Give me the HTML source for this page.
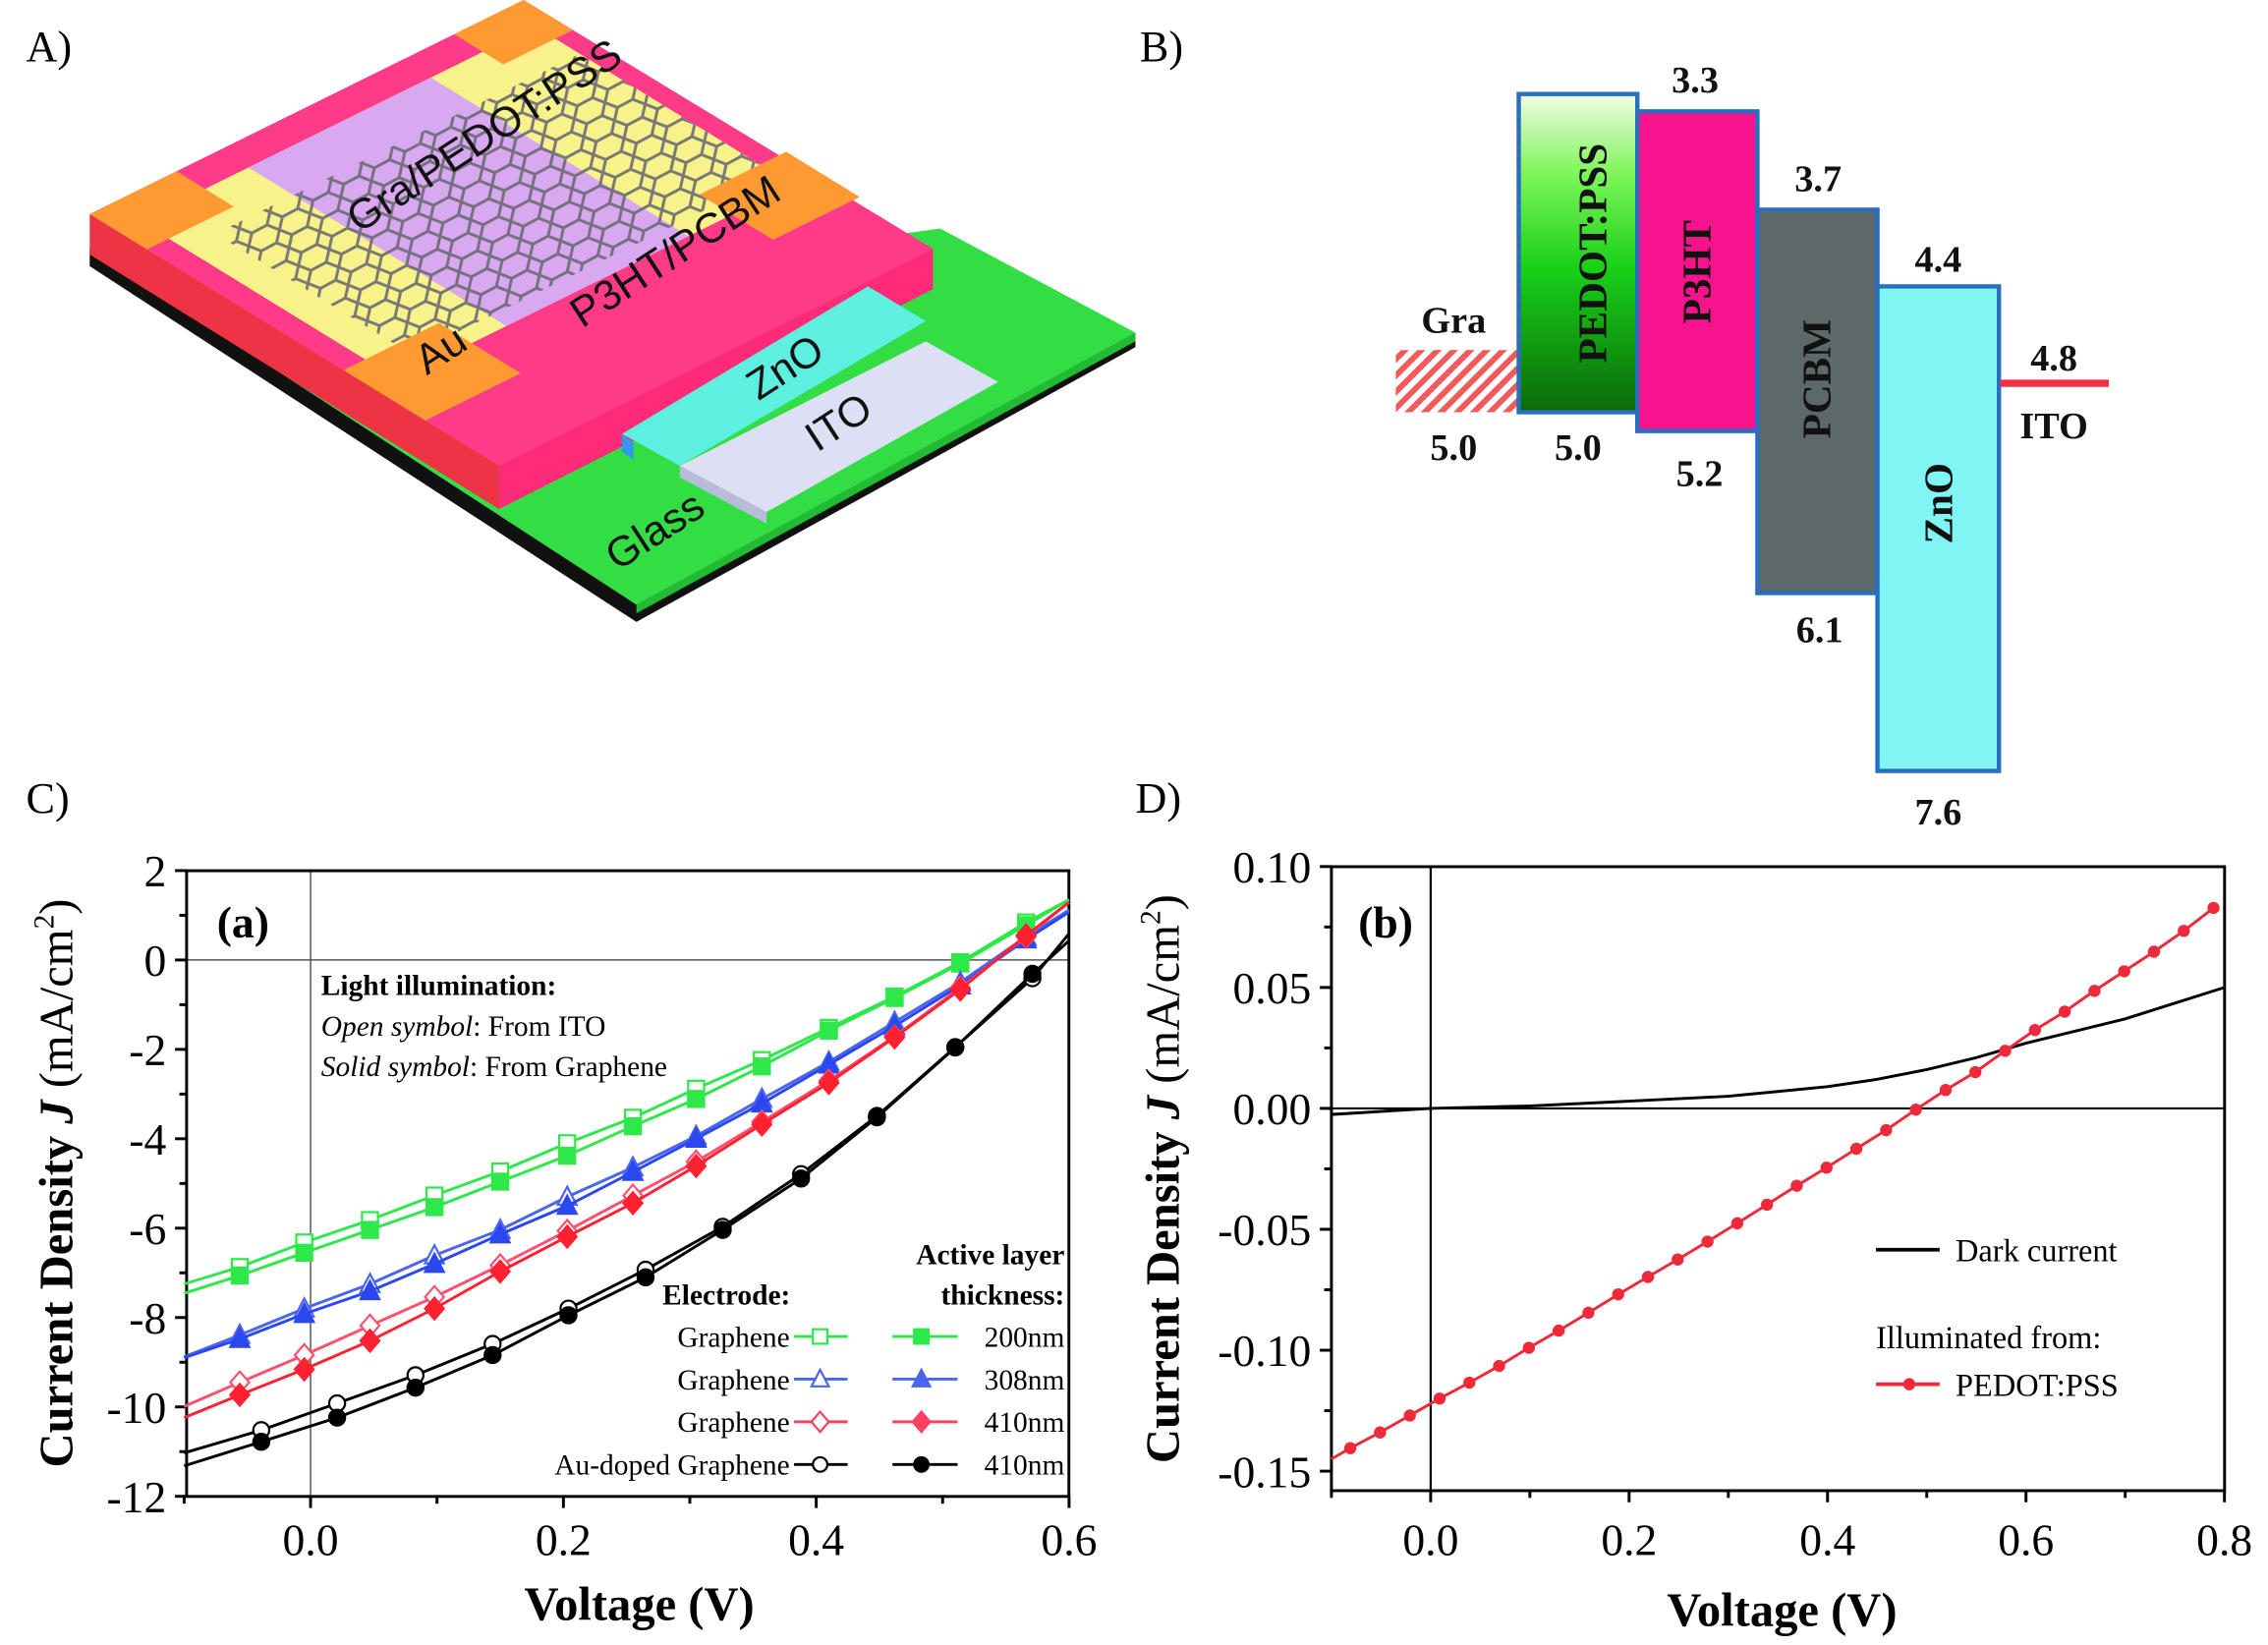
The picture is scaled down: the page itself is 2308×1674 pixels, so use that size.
<!DOCTYPE html>
<html><head><meta charset="utf-8">
<style>
html,body{margin:0;padding:0;background:#fff;}
svg{display:block;}
.serif{font-family:"Liberation Serif",serif;}
.sans{font-family:"Liberation Sans",sans-serif;}
</style></head>
<body>
<svg id="fig" width="2308" height="1674" viewBox="0 0 1568 1137.3" xmlns="http://www.w3.org/2000/svg">
<defs>
  <linearGradient id="pedotGrad" x1="0" y1="0" x2="0" y2="1">
    <stop offset="0" stop-color="#f2fbe6"/>
    <stop offset="0.25" stop-color="#7ef55a"/>
    <stop offset="0.55" stop-color="#18d018"/>
    <stop offset="1" stop-color="#0a6a0a"/>
  </linearGradient>
  <pattern id="hatch" width="8" height="8" patternUnits="userSpaceOnUse" patternTransform="rotate(45)">
    <rect width="8" height="8" fill="#fff"/>
    <rect width="4" height="8" fill="#f05a5a"/>
  </pattern>
  <pattern id="hexes" width="24" height="14" patternUnits="userSpaceOnUse" patternTransform="rotate(-28)">
    <path d="M0,7 L6,0 L18,0 L24,7 L18,14 L6,14 Z" fill="none" stroke="#6a6a72" stroke-width="2"/>
  </pattern>
</defs>

<!-- Panel letters -->
<text x="18" y="42" class="serif" font-size="30">A)</text>
<text x="788" y="42" class="serif" font-size="30">B)</text>
<text x="18" y="562" class="serif" font-size="30">C)</text>
<text x="785" y="562" class="serif" font-size="30">D)</text>

<!-- Panel A: device schematic -->
<g>
  <polygon points="62,172 440,418 785,230 785,240 440,430 62,184" fill="#111"/>
  <polygon points="62,172 440,418 785,230 650,158 345,200" fill="#33dd44"/>
  <polygon points="440,418 785,230 785,236 440,424" fill="#22bb33"/>
  <!-- P3HT slab -->
  <polygon points="62,148 345,322 345,352 62,176" fill="#ee3344"/>
  <polygon points="345,322 645,172 645,200 345,352" fill="#ff2a78"/>
  <polygon points="62,148 345,322 645,172 362,0" fill="#ff3a88"/>
  <polygon id="pedotYellow" fill="#f8f28a"/>
  <polygon id="pedotLav" fill="#d8a8f0"/>
  <polygon id="grapheneNet" fill="url(#hexes)" opacity="0.9"/>
  <polygon id="pad1" fill="#ff9a33"/>
  <polygon id="pad2" fill="#ff9a33"/>
  <polygon id="pad3" fill="#ff9a33"/>
  <polygon id="pad4" fill="#ff9a33"/>
  <!-- ZnO / ITO -->
  <polygon points="430,300 438,306 438,318 430,312" fill="#3399ee"/>
  <polygon points="430,300 470,322 640,222 600,198" fill="#5df0e0"/>
  <polygon points="470,322 530,354 690,264 640,236" fill="#dde0f4"/>
  <polygon points="470,322 530,354 530,362 470,330" fill="#b8bcd8"/>
  <g class="sans" font-size="29" fill="#111">
    <text transform="translate(340,102) rotate(-33)" text-anchor="middle">Gra/PEDOT:PSS</text>
    <text transform="translate(472,182) rotate(-33)" text-anchor="middle">P3HT/PCBM</text>
    <text transform="translate(310,250) rotate(-33)" text-anchor="middle">Au</text>
    <text transform="translate(548,262) rotate(-33)" text-anchor="middle">ZnO</text>
    <text transform="translate(585,300) rotate(-33)" text-anchor="middle">ITO</text>
    <text transform="translate(458,375) rotate(-33)" text-anchor="middle">Glass</text>
  </g>
</g>

<!-- Panel B: energy diagram -->
<g>
  <rect x="965" y="242" width="85" height="43" fill="url(#hatch)"/>
  <rect x="1050" y="65" width="82" height="220" fill="url(#pedotGrad)" stroke="#2a6ec0" stroke-width="3"/>
  <rect x="1132" y="77" width="83" height="221" fill="#f5148c" stroke="#2a6ec0" stroke-width="3"/>
  <rect x="1215" y="145" width="83" height="265" fill="#5d6868" stroke="#2a6ec0" stroke-width="3"/>
  <rect x="1298" y="198" width="84" height="335" fill="#80f6f4" stroke="#2a6ec0" stroke-width="3"/>
  <line x1="1383" y1="265" x2="1458" y2="265" stroke="#ee3344" stroke-width="5"/>
  <g class="serif" font-weight="bold" font-size="28" fill="#111" text-anchor="middle">
    <text transform="translate(1101,175) rotate(-90)" dominant-baseline="central">PEDOT:PSS</text>
    <text transform="translate(1173,188) rotate(-90)" dominant-baseline="central">P3HT</text>
    <text transform="translate(1256,262) rotate(-90)" dominant-baseline="central">PCBM</text>
    <text transform="translate(1340,348) rotate(-90)" dominant-baseline="central">ZnO</text>
  </g>
  <g class="serif" font-weight="bold" font-size="26" fill="#111" text-anchor="middle">
    <text x="1172" y="64">3.3</text>
    <text x="1257" y="132">3.7</text>
    <text x="1340" y="188">4.4</text>
    <text x="1420" y="256">4.8</text>
    <text x="1420" y="303">ITO</text>
    <text x="1005" y="230">Gra</text>
    <text x="1005" y="318">5.0</text>
    <text x="1091" y="318">5.0</text>
    <text x="1175" y="336">5.2</text>
    <text x="1258" y="444">6.1</text>
    <text x="1340" y="570">7.6</text>
  </g>
</g>

<g id="chartC"></g>
<g id="chartD"></g>
</svg>

<script>
(function(){
  var L=[62,148], F=[345,322], B=[362,0];
  function P(s,t){return [L[0]+s*(F[0]-L[0])+t*(B[0]-L[0]), L[1]+s*(F[1]-L[1])+t*(B[1]-L[1])];}
  function quad(s0,s1,t0,t1){return [P(s0,t0),P(s1,t0),P(s1,t1),P(s0,t1)].map(function(p){return p[0].toFixed(1)+','+p[1].toFixed(1);}).join(' ');}
  document.getElementById('pedotYellow').setAttribute('points',quad(0.07,0.7,0.05,0.96));
  document.getElementById('pedotLav').setAttribute('points',quad(0.07,0.7,0.3,0.72));
  document.getElementById('grapheneNet').setAttribute('points',quad(0.18,0.66,0.12,0.96));
  document.getElementById('pad1').setAttribute('points',quad(0.0,0.14,0.0,0.2));
  document.getElementById('pad2').setAttribute('points',quad(0.62,0.82,0.0,0.22));
  document.getElementById('pad3').setAttribute('points',quad(0.0,0.12,0.84,1.0));
  document.getElementById('pad4').setAttribute('points',quad(0.62,0.8,0.82,1.02));
})();

var NS='http://www.w3.org/2000/svg';
function mk(parent,tag,attrs){var e=document.createElementNS(NS,tag);for(var k in attrs)e.setAttribute(k,attrs[k]);parent.appendChild(e);return e;}

// ---------- Chart C data ----------
var cX = [-0.1,-0.056,-0.005,0.047,0.098,0.15,0.203,0.255,0.305,0.357,0.41,0.462,0.514,0.566,0.6];
var cGreenOpen  = [-7.25,-6.87,-6.32,-5.82,-5.27,-4.73,-4.10,-3.53,-2.88,-2.24,-1.52,-0.82,-0.05,0.84,1.35];
var cGreenSolid = [-7.46,-7.06,-6.55,-6.04,-5.53,-4.96,-4.38,-3.72,-3.11,-2.38,-1.58,-0.85,-0.08,0.78,1.35];
var cBlueOpen   = [-8.88,-8.39,-7.80,-7.25,-6.61,-6.04,-5.30,-4.64,-3.94,-3.11,-2.28,-1.39,-0.50,0.52,1.12];
var cBlueSolid  = [-8.90,-8.48,-7.92,-7.41,-6.80,-6.14,-5.50,-4.74,-4.00,-3.21,-2.34,-1.48,-0.57,0.46,1.07];
var cRedOpen    = [-9.99,-9.45,-8.84,-8.18,-7.54,-6.83,-6.06,-5.27,-4.51,-3.62,-2.70,-1.71,-0.62,0.52,1.29];
var cRedSolid   = [-10.24,-9.73,-9.16,-8.52,-7.80,-6.97,-6.19,-5.44,-4.61,-3.68,-2.75,-1.73,-0.66,0.55,1.29];
var cBlackX     = [-0.1,-0.039,0.021,0.083,0.144,0.204,0.265,0.326,0.388,0.448,0.51,0.571,0.6];
var cBlackOpen  = [-11.03,-10.52,-9.92,-9.29,-8.59,-7.80,-6.93,-5.97,-4.79,-3.49,-1.95,-0.41,0.59];
var cBlackSolid = [-11.32,-10.78,-10.24,-9.57,-8.84,-7.95,-7.10,-6.04,-4.89,-3.52,-1.96,-0.31,0.43];
var cYTicks = [2,0,-2,-4,-6,-8,-10,-12];
var cXTicks = [0.0,0.2,0.4,0.6];
var cLegendElectrode = ['Graphene','Graphene','Graphene','Au-doped Graphene'];
var cLegendThickness = ['200nm','308nm','410nm','410nm'];

// ---------- Chart D data ----------
var dRedX = [-0.1,-0.081,-0.051,-0.021,0.009,0.039,0.069,0.099,0.129,0.159,0.189,0.219,0.249,0.279,0.309,0.339,0.369,0.399,0.429,0.459,0.489,0.519,0.549,0.579,0.609,0.639,0.669,0.699,0.729,0.759,0.789];
var dRedY = [-0.145,-0.1405,-0.134,-0.127,-0.120,-0.1134,-0.1065,-0.099,-0.0919,-0.0845,-0.0769,-0.0697,-0.0625,-0.0551,-0.0475,-0.0398,-0.032,-0.0245,-0.0167,-0.009,-0.0005,0.0076,0.015,0.0238,0.0324,0.040,0.0486,0.0567,0.0648,0.0734,0.0829];
var dDarkX = [-0.1,0.0,0.1,0.2,0.3,0.4,0.45,0.5,0.55,0.6,0.7,0.8];
var dDarkY = [-0.0025,0.0,0.001,0.003,0.005,0.009,0.012,0.016,0.021,0.027,0.037,0.050];
var dYTicks = [0.10,0.05,0.00,-0.05,-0.10,-0.15];
var dXTicks = [0.0,0.2,0.4,0.6,0.8];

// ---------- Chart C ----------
(function(){
  var g=document.getElementById('chartC');
  var L=129,R=739,T=602,Bm=1034.6;
  function sx(v){return 214.7+v*874;}
  function sy(v){return 663.7-v*30.9;}
  var zl=mk(g,'line',{x1:L,x2:R,y1:sy(0),y2:sy(0),stroke:'#555','stroke-width':1});
   
  var zv=mk(g,'line',{x1:sx(0),x2:sx(0),y1:T,y2:Bm,stroke:'#555','stroke-width':1});
   
  var fr=mk(g,'rect',{x:L,y:T,width:R-L,height:Bm-T,fill:'none',stroke:'#000','stroke-width':2});
   
  for(var v=-12;v<=2;v++){
    var major=(v%2===0);
    var t=mk(g,'line',{x1:L-(major?8:5),x2:L,y1:sy(v),y2:sy(v),stroke:'#000','stroke-width':2});
     
  }
  cYTicks.forEach(function(v){
    var t=mk(g,'text',{x:L-14,y:sy(v)+11,'text-anchor':'end','font-size':31,class:'serif'});
    t.textContent=String(v);
     
  });
  for(var i=-1;i<=6;i++){
    var xv=i/10, major=(i%2===0);
    var t=mk(g,'line',{x1:sx(xv),x2:sx(xv),y1:Bm,y2:Bm+(major?8:5),stroke:'#000','stroke-width':2});
     
  }
  cXTicks.forEach(function(v){
    var t=mk(g,'text',{x:sx(v),y:1075,'text-anchor':'middle','font-size':31,class:'serif'});
    t.textContent=v.toFixed(1);
     
  });
  var xl=mk(g,'text',{x:442,y:1120,'text-anchor':'middle','font-size':33,'font-weight':'bold',class:'serif'});
  xl.textContent='Voltage (V)';
   
  var yl=mk(g,'text',{transform:'translate(50,818) rotate(-90)','text-anchor':'middle','font-size':33,'font-weight':'bold',class:'serif'});
  yl.innerHTML='Current Density <tspan font-style="italic">J</tspan><tspan font-weight="normal"> (mA/cm</tspan><tspan font-weight="normal" font-size="20" dy="-13">2</tspan><tspan font-weight="normal" dy="13">)</tspan>';
   

  function marker(parent,shape,x,y,color,filled,sz){
    var fill=filled?color:'#fff', s=sz||5.5, e;
    if(shape==='square') e=mk(parent,'rect',{x:x-s,y:y-s,width:2*s,height:2*s,fill:fill,stroke:color,'stroke-width':1.5});
    else if(shape==='tri') e=mk(parent,'polygon',{points:x+','+(y-s-1.5)+' '+(x+s+1)+','+(y+s)+' '+(x-s-1)+','+(y+s),fill:fill,stroke:color,'stroke-width':1.5});
    else if(shape==='diamond') e=mk(parent,'polygon',{points:x+','+(y-s-2)+' '+(x+s+1)+','+y+' '+x+','+(y+s+2)+' '+(x-s-1)+','+y,fill:fill,stroke:color,'stroke-width':1.5});
    else e=mk(parent,'circle',{cx:x,cy:y,r:s,fill:fill,stroke:color,'stroke-width':1.5});
     
  }
  function series(xs,ys,color,shape,filled,name){
    var sg=mk(g,'g',{});
     
    var pts=xs.map(function(x,i){return sx(x).toFixed(1)+','+sy(ys[i]).toFixed(1);}).join(' ');
    var pl=mk(sg,'polyline',{points:pts,fill:'none',stroke:color,'stroke-width':2});
     
    for(var i=1;i<xs.length-1;i++) marker(sg,shape,sx(xs[i]),sy(ys[i]),color,filled);
  }
  series(cX,cGreenOpen,'#2ee84a','square',false,'series-200nm-ito');
  series(cX,cGreenSolid,'#2ee84a','square',true,'series-200nm-graphene');
  series(cX,cBlueOpen,'#4a66ee','tri',false,'series-308nm-ito');
  series(cX,cBlueSolid,'#2a48ee','tri',true,'series-308nm-graphene');
  series(cX,cRedOpen,'#ff5070','diamond',false,'series-410nm-ito');
  series(cX,cRedSolid,'#ff2030','diamond',true,'series-410nm-graphene');
  series(cBlackX,cBlackOpen,'#000','circle',false,'series-au-doped-ito');
  series(cBlackX,cBlackSolid,'#000','circle',true,'series-au-doped-graphene');

  var lab=mk(g,'text',{x:168,y:648,'text-anchor':'middle','font-size':31,'font-weight':'bold',class:'serif'});
  lab.textContent='(a)';  
  var n1=mk(g,'text',{x:222,y:688,'font-size':20,'font-weight':'bold',class:'serif'});
  n1.textContent='Light illumination:';  
  var n2=mk(g,'text',{x:222,y:716,'font-size':20,class:'serif'});
  n2.innerHTML='<tspan font-style="italic">Open symbol</tspan>: From ITO';  
  var n3=mk(g,'text',{x:222,y:744,'font-size':20,class:'serif'});
  n3.innerHTML='<tspan font-style="italic">Solid symbol</tspan>: From Graphene';  

  var lg=mk(g,'g',{class:'serif'});
   
  var h1=mk(lg,'text',{x:736,y:874,'text-anchor':'end','font-size':20,'font-weight':'bold'}); h1.textContent='Active layer';
   
  var h2=mk(lg,'text',{x:736,y:902,'text-anchor':'end','font-size':20,'font-weight':'bold'}); h2.textContent='thickness:';
   
  var h3=mk(lg,'text',{x:458,y:902,'font-size':20,'font-weight':'bold'}); h3.textContent='Electrode:';
   
  var cols=['#2ee84a','#4a66ee','#ff4060','#000'], shapes=['square','tri','diamond','circle'];
  for(var r=0;r<4;r++){
    var y=924+r*29.5;
    var e=mk(lg,'text',{x:546,y:y+7,'text-anchor':'end','font-size':20}); e.textContent=cLegendElectrode[r];
     
    var l1=mk(lg,'line',{x1:549,x2:586,y1:y,y2:y,stroke:cols[r],'stroke-width':2});
     
    marker(lg,shapes[r],567,y,cols[r],false,5);
    var l2=mk(lg,'line',{x1:617,x2:662,y1:y,y2:y,stroke:cols[r],'stroke-width':2});
     
    marker(lg,shapes[r],637,y,cols[r],true,5);
    var tt=mk(lg,'text',{x:736,y:y+7,'text-anchor':'end','font-size':20}); tt.textContent=cLegendThickness[r];
     
  }
})();

// ---------- Chart D ----------
(function(){
  var g=document.getElementById('chartD');
  var L=920.5,R=1538,T=599.2,Bm=1030.6;
  function sx(v){return 989.1+v*686;}
  function sy(v){return 766.3-v*1672;}
  var zl=mk(g,'line',{x1:L,x2:R,y1:sy(0),y2:sy(0),stroke:'#000','stroke-width':1.5});
   
  var zv=mk(g,'line',{x1:sx(0),x2:sx(0),y1:T,y2:Bm,stroke:'#000','stroke-width':1.5});
   
  var fr=mk(g,'rect',{x:L,y:T,width:R-L,height:Bm-T,fill:'none',stroke:'#000','stroke-width':2});
   
  for(var i=-15;i<=10;i+=2.5){
    var v=i/100, major=(Math.abs(i%5)<0.01);
    var t=mk(g,'line',{x1:L-(major?8:5),x2:L,y1:sy(v),y2:sy(v),stroke:'#000','stroke-width':2});
     
  }
  dYTicks.forEach(function(v){
    var t=mk(g,'text',{x:L-14,y:sy(v)+11,'text-anchor':'end','font-size':31,class:'serif'});
    t.textContent=v.toFixed(2);
     
  });
  for(var i=-1;i<=8;i++){
    var xv=i/10, major=(i%2===0);
    var t=mk(g,'line',{x1:sx(xv),x2:sx(xv),y1:Bm,y2:Bm+(major?8:5),stroke:'#000','stroke-width':2});
     
  }
  dXTicks.forEach(function(v){
    var t=mk(g,'text',{x:sx(v),y:1075,'text-anchor':'middle','font-size':31,class:'serif'});
    t.textContent=v.toFixed(1);
     
  });
  var xl=mk(g,'text',{x:1232,y:1124,'text-anchor':'middle','font-size':33,'font-weight':'bold',class:'serif'});
  xl.textContent='Voltage (V)';
   
  var yl=mk(g,'text',{transform:'translate(815,815) rotate(-90)','text-anchor':'middle','font-size':33,'font-weight':'bold',class:'serif'});
  yl.innerHTML='Current Density <tspan font-style="italic">J</tspan><tspan font-weight="normal"> (mA/cm</tspan><tspan font-weight="normal" font-size="20" dy="-13">2</tspan><tspan font-weight="normal" dy="13">)</tspan>';
   

  var dk=mk(g,'polyline',{points:dDarkX.map(function(x,i){return sx(x).toFixed(1)+','+sy(dDarkY[i]).toFixed(1);}).join(' '),fill:'none',stroke:'#000','stroke-width':2});
   
  var rg=mk(g,'g',{});
   
  var rl=mk(rg,'polyline',{points:dRedX.map(function(x,i){return sx(x).toFixed(1)+','+sy(dRedY[i]).toFixed(1);}).join(' '),fill:'none',stroke:'#ee2a3a','stroke-width':2});
   
  for(var i=1;i<dRedX.length;i++){
    var c=mk(rg,'circle',{cx:sx(dRedX[i]),cy:sy(dRedY[i]),r:4.2,fill:'#ee2a3a'});
     
  }
  var lab=mk(g,'text',{x:958,y:648,'text-anchor':'middle','font-size':31,'font-weight':'bold',class:'serif'});
  lab.textContent='(b)';  
  var lg=mk(g,'g',{class:'serif'});
   
  var l1=mk(lg,'line',{x1:1297,x2:1341,y1:864,y2:864,stroke:'#000','stroke-width':2.5});
   
  var t1=mk(lg,'text',{x:1352,y:872,'font-size':22}); t1.textContent='Dark current';
   
  var t2=mk(lg,'text',{x:1297,y:932,'font-size':22}); t2.textContent='Illuminated from:';
   
  var l2=mk(lg,'line',{x1:1297,x2:1341,y1:957,y2:957,stroke:'#ee2a3a','stroke-width':2.5});
   
  var lc=mk(lg,'circle',{cx:1320,cy:957,r:4.2,fill:'#ee2a3a'});
   
  var t3=mk(lg,'text',{x:1352,y:965,'font-size':22}); t3.textContent='PEDOT:PSS';
   
})();
</script>
</body></html>
